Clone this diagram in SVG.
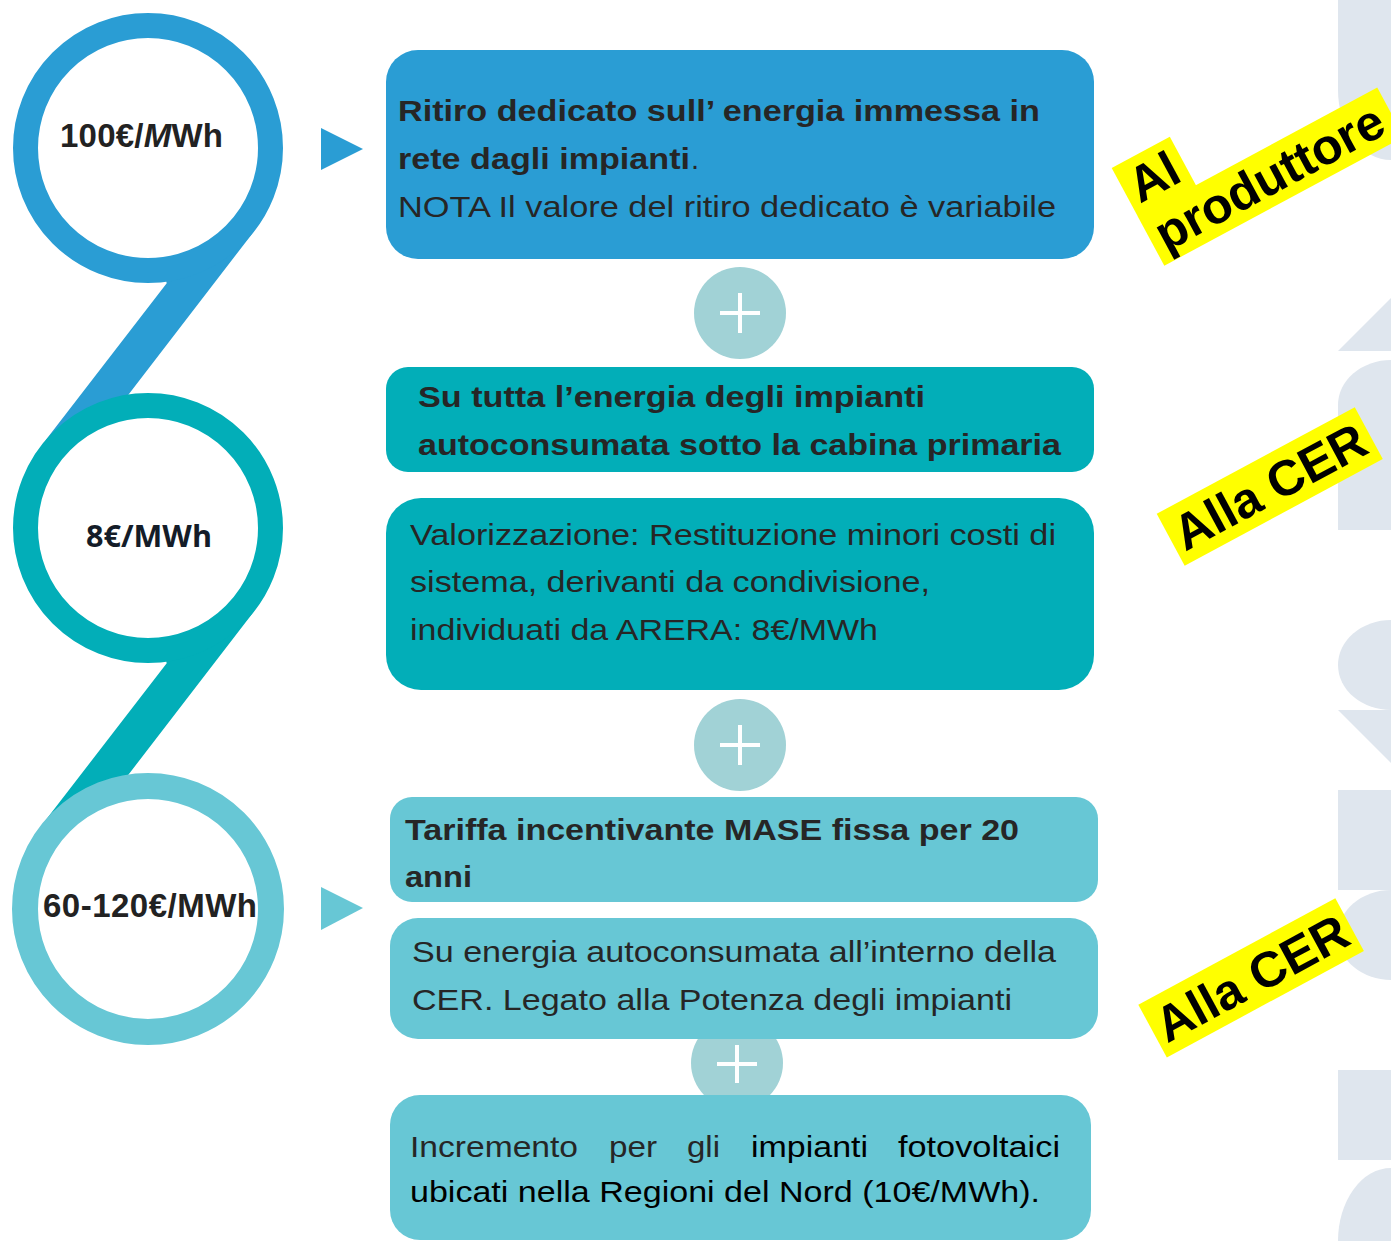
<svg xmlns="http://www.w3.org/2000/svg" width="1391" height="1241" viewBox="0 0 1391 1241">
<style>
.bg{fill:#dfe6ee}
.t{font-family:"Liberation Sans",Arial,sans-serif;font-size:29px;fill:#262626}
.b{font-weight:bold}
.k{fill:#000}
.c{font-family:"Liberation Sans",Arial,sans-serif;font-size:33px;font-weight:bold;fill:#222}
.y{fill:#ffff00}
.yt{font-family:"Liberation Sans",Arial,sans-serif;font-size:50px;font-weight:bold;fill:#000}
.plus{fill:#a1d2d6}
.pl{stroke:#fff;stroke-width:4}
</style>
<rect width="1391" height="1241" fill="#fff"/>
<g id="background">
<path class="bg" d="M1338,0 V90 A53,70 0 0 0 1391,160 V0 Z"/>
<path class="bg" d="M1338,351 L1391,298 V351 Z"/>
<path class="bg" d="M1391,360 A53,45 0 0 0 1338,405 V530 H1391 Z"/>
<path class="bg" d="M1391,620 A53,45 0 0 0 1391,710 Z"/>
<path class="bg" d="M1338,710 H1391 V763 Z"/>
<rect class="bg" x="1338" y="790" width="53" height="100"/>
<path class="bg" d="M1391,890 A53,45 0 0 0 1391,980 Z"/>
<rect class="bg" x="1338" y="1070" width="53" height="90"/>
<path class="bg" d="M1391,1168 A53,73 0 0 0 1338,1241 H1391 Z"/>
</g>
<g id="circle1">
<polygon points="166.7,283.3 148,200 254.7,230.4 127.4,396 45,441" fill="#2a9dd4"/>
<circle cx="148" cy="148" r="122.5" fill="#fff" stroke="#2a9dd4" stroke-width="25"/>
<text class="c" x="60" y="147" textLength="163" lengthAdjust="spacing">100€/<tspan font-style="italic">M</tspan>Wh</text>
</g>
<g id="circle2">
<polygon points="166.7,663.3 148,580 254.7,610.4 127.4,776 45,821" fill="#02aeb8"/>
<circle cx="148" cy="528" r="122.5" fill="#fff" stroke="#02aeb8" stroke-width="25"/>
<text x="86" y="547" font-family="'Open Sans','Noto Sans',sans-serif" font-size="31" font-weight="bold" fill="#141c28" textLength="126" lengthAdjust="spacingAndGlyphs">8€/MWh</text>
</g>
<g id="circle3">
<circle cx="148" cy="909" r="123" fill="#fff" stroke="#67c7d5" stroke-width="26"/>
<text class="c" x="43" y="917" textLength="214" lengthAdjust="spacing">60-120€/MWh</text>
</g>
<g id="connectors">
<polygon points="321,128 363,149 321,170" fill="#2a9dd4"/>
<polygon points="321,887 363,908 321,930" fill="#67c7d5"/>
<circle class="plus" cx="740" cy="313" r="46"/>
<path class="pl" d="M720,313 H760 M740,293 V333"/>
<circle class="plus" cx="740" cy="745" r="46"/>
<path class="pl" d="M720,745 H760 M740,725 V765"/>
<circle class="plus" cx="737" cy="1063" r="46"/>
<path class="pl" d="M717,1064 H757 M737,1045 V1083"/>
</g>
<g id="box1">
<rect x="386" y="50" width="708" height="209" rx="32" fill="#2a9dd4"/>
<text class="t b" x="398" y="121" textLength="642" lengthAdjust="spacingAndGlyphs">Ritiro dedicato sull’ energia immessa in</text>
<text class="t b" x="398" y="169" textLength="292" lengthAdjust="spacingAndGlyphs">rete dagli impianti</text>
<text class="t" x="691" y="169">.</text>
<text class="t" x="398" y="217" textLength="658" lengthAdjust="spacingAndGlyphs">NOTA Il valore del ritiro dedicato è variabile</text>
</g>
<g id="box2">
<rect x="386" y="367" width="708" height="105" rx="22" fill="#02aeb8"/>
<text class="t b" x="418" y="407" textLength="507" lengthAdjust="spacingAndGlyphs">Su tutta l’energia degli impianti</text>
<text class="t b" x="418" y="455" textLength="643" lengthAdjust="spacingAndGlyphs">autoconsumata sotto la cabina primaria</text>
</g>
<g id="box3">
<rect x="386" y="498" width="708" height="192" rx="35" fill="#02aeb8"/>
<text class="t" x="410" y="545" textLength="646" lengthAdjust="spacingAndGlyphs">Valorizzazione: Restituzione minori costi di</text>
<text class="t" x="410" y="592" textLength="520" lengthAdjust="spacingAndGlyphs">sistema, derivanti da condivisione,</text>
<text class="t" x="410" y="640" textLength="468" lengthAdjust="spacingAndGlyphs">individuati da ARERA: 8€/MWh</text>
</g>
<g id="box4">
<rect x="390" y="797" width="708" height="105" rx="22" fill="#67c7d5"/>
<text class="t b" x="405" y="840" textLength="614" lengthAdjust="spacingAndGlyphs">Tariffa incentivante MASE fissa per 20</text>
<text class="t b" x="405" y="887" textLength="67" lengthAdjust="spacingAndGlyphs">anni</text>
</g>
<g id="box5">
<rect x="390" y="918" width="708" height="121" rx="28" fill="#67c7d5"/>
<text class="t" x="412" y="962" textLength="644" lengthAdjust="spacingAndGlyphs">Su energia autoconsumata all’interno della</text>
<text class="t" x="412" y="1010" textLength="600" lengthAdjust="spacingAndGlyphs">CER. Legato alla Potenza degli impianti</text>
</g>
<g id="box6">
<rect x="390" y="1095" width="701" height="145" rx="30" fill="#67c7d5"/>
<text class="t" x="410" y="1157" fill="#333" textLength="168" lengthAdjust="spacingAndGlyphs">Incremento</text>
<text class="t" x="609" y="1157" textLength="48" lengthAdjust="spacingAndGlyphs">per</text>
<text class="t" x="687" y="1157" textLength="33" lengthAdjust="spacingAndGlyphs">gli</text>
<text class="t k" x="751" y="1157" textLength="117" lengthAdjust="spacingAndGlyphs">impianti</text>
<text class="t k" x="898" y="1157" textLength="162" lengthAdjust="spacingAndGlyphs">fotovoltaici</text>
<text class="t k" x="410" y="1202" textLength="630" lengthAdjust="spacingAndGlyphs">ubicati nella Regioni del Nord (10€/MWh).</text>
</g>
<g id="label-produttore" transform="translate(1111.7,168) rotate(-28.3)">
<rect class="y" x="0" y="0" width="66" height="56"/>
<rect class="y" x="0" y="55" width="272" height="56"/>
<text class="yt" x="8" y="45">Al</text>
<text class="yt" x="8" y="100" font-size="48">produttore</text>
</g>
<g id="label-cer1" transform="translate(1156.7,513.8) rotate(-28.3)">
<rect class="y" x="0" y="0" width="225" height="59"/>
<text class="yt" x="7" y="47">Alla CER</text>
</g>
<g id="label-cer2" transform="translate(1138.3,1004.7) rotate(-28.4)">
<rect class="y" x="0" y="0" width="224" height="60"/>
<text class="yt" x="7" y="48">Alla CER</text>
</g>
</svg>
